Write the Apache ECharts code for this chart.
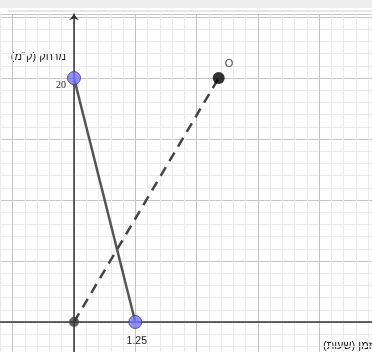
<!DOCTYPE html>
<html>
<head>
<meta charset="utf-8">
<script src="https://cdn.jsdelivr.net/npm/echarts@6/dist/echarts.min.js"></script>
<style>
  html, body { margin: 0; padding: 0; background: #fff; }
  #chart { width: 372px; height: 352px; }
</style>
</head>
<body>
<div id="chart"></div>
<script>
// data
const solidTime = [0, 1.25]
const solidDist = [20, 0]
const dashTime = [0, 2.95]
const dashDist = [0, 20]
const yLabelShown = [20]
const xLabelShown = [1.25]
const xName = 'זמן (שעות)'
const yName = 'מרחק (ק"מ)'

const pairs = (xs, ys) => xs.map((x, i) => [x, ys[i]])

const blueDot = {
  color: '#7373ff',
  borderColor: '#3b3b7a',
  borderWidth: 1
}

// grid runs past the canvas so the lines fill it; axes are pulled back to 0 with offset
const options = {
  animation: false,
  backgroundColor: '#fff',
  grid: {
    left: -48.6,
    top: 14,
    width: 490.4,
    height: 369,
    containLabel: false,
    outerBoundsMode: 'none'
  },
  xAxis: {
    type: 'value',
    min: -2.5,
    max: 7.5,
    interval: 1.25,
    offset: -61,
    axisLine: { onZero: false, lineStyle: { color: '#333', width: 1.5 } },
    axisTick: { show: false },
    axisLabel: {
      margin: 14,
      fontSize: 10.5,
      fontFamily: 'Liberation Sans',
      color: '#222',
      padding: [0, 0, 0, 3],
      formatter: v => (xLabelShown.includes(v) ? String(v) : '')
    },
    splitLine: { show: true, lineStyle: { color: '#c4c4c4', width: 1 } },
    minorTick: { show: false, splitNumber: 5 },
    minorSplitLine: { show: true, lineStyle: { color: '#ebebeb', width: 1 } }
  },
  yAxis: {
    type: 'value',
    min: -5,
    max: 25.25,
    interval: 5,
    offset: -122.6,
    axisLine: {
      onZero: false,
      symbol: ['none', 'arrow'],
      symbolSize: [7, 6],
      lineStyle: { color: '#333', width: 1.5 }
    },
    axisTick: { show: false },
    axisLabel: {
      margin: 8,
      fontSize: 10,
      fontFamily: 'Liberation Serif',
      color: '#222',
      verticalAlign: 'top',
      padding: [2, 0, 0, 0],
      formatter: v => (yLabelShown.includes(v) ? String(v) : '')
    },
    splitLine: { show: true, lineStyle: { color: '#c4c4c4', width: 1 } },
    minorTick: { show: false, splitNumber: 5 },
    minorSplitLine: { show: true, lineStyle: { color: '#ebebeb', width: 1 } }
  },
  graphic: [
    { type: 'rect', left: 0, top: 0, shape: { width: 372, height: 8 }, style: { fill: '#ededed' }, silent: true },
    { type: 'line', shape: { x1: 8, y1: 11, x2: 372, y2: 11 }, style: { stroke: '#cfcfcf', lineWidth: 1 }, silent: true },
    {
      type: 'text', right: 306, top: 51,
      style: { text: yName, fontSize: 11, fontFamily: 'Liberation Sans', fill: '#222' }
    },
    {
      type: 'text', left: 323, top: 340,
      style: { text: xName, fontSize: 11, fontFamily: 'Liberation Sans', fill: '#222' }
    }
  ],
  series: [
    {
      type: 'line',
      data: pairs(solidTime, solidDist),
      symbol: 'none',
      lineStyle: { color: '#555', width: 2.5 },
      z: 2
    },
    {
      type: 'line',
      data: pairs(dashTime, dashDist),
      symbol: 'none',
      lineStyle: { color: '#444', width: 2.5, type: [10, 7] },
      z: 2
    },
    {
      type: 'scatter',
      data: pairs(solidTime, solidDist),
      symbolSize: 13,
      itemStyle: blueDot,
      z: 4
    },
    {
      type: 'scatter',
      data: [pairs(dashTime, dashDist)[0]],
      symbolSize: 10,
      itemStyle: { color: '#3c3c3c' },
      z: 3
    },
    {
      type: 'scatter',
      data: [pairs(dashTime, dashDist)[1]],
      symbolSize: 12,
      itemStyle: { color: '#000' },
      label: {
        show: true,
        formatter: 'O',
        position: [12, -14],
        fontSize: 11,
        fontFamily: 'Liberation Sans',
        color: '#111'
      },
      z: 4
    }
  ]
}

const chart = echarts.init(document.getElementById('chart'))
chart.setOption(options)
window.addEventListener('resize', function () {
  chart && chart.resize()
})
</script>
</body>
</html>
